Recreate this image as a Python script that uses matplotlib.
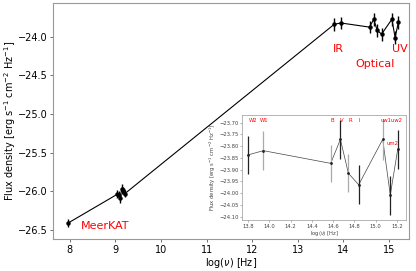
import numpy as np
import matplotlib.pyplot as plt

# radio (MeerKAT) points
radio_x = [7.97, 9.04, 9.07, 9.10, 9.14, 9.17, 9.21]
radio_y = [-26.41, -26.04, -26.05, -26.09, -25.97, -25.99, -26.03]
radio_err = [0.05, 0.05, 0.05, 0.06, 0.06, 0.05, 0.05]

# IR / optical / UV points (also shown in the inset)
band_names = ['W2', 'W1', 'B', 'V', 'R', 'I', 'uw1', 'um2', 'uw2']
band_x = [13.80, 13.944, 14.577, 14.668, 14.743, 14.840, 15.066, 15.137, 15.207]
band_y = [-23.837, -23.819, -23.873, -23.771, -23.915, -23.964, -23.771, -24.008, -23.813]
band_err = [0.080, 0.083, 0.080, 0.083, 0.080, 0.083, 0.087, 0.083, 0.083]
band_dark = [True, False, False, True, False, True, False, True, True]

all_x = radio_x + band_x
all_y = radio_y + band_y
all_err = radio_err + band_err

fig = plt.figure(figsize=(4.16, 2.71), dpi=100)
ax = fig.add_axes([0.1274, 0.118, 0.8556, 0.871])
ax.errorbar(all_x, all_y, yerr=all_err, fmt='o-', color='black', ms=2.2, lw=0.8, elinewidth=1.0)
ax.set_xlim(7.63, 15.44)
ax.set_ylim(-26.62, -23.56)
ax.set_xticks(range(8, 16))
ax.set_yticks([-26.5, -26.0, -25.5, -25.0, -24.5, -24.0])
ax.tick_params(labelsize=7, length=2.5, width=0.6, color='#555555', pad=1.5)
for s in ax.spines.values():
    s.set_color('#999999')
    s.set_linewidth(0.8)
ax.set_xlabel(r'log($\nu$) [Hz]', fontsize=7, labelpad=1)
ax.set_ylabel(r'Flux density [erg s$^{-1}$ cm$^{-2}$ Hz$^{-1}$]', fontsize=7, labelpad=0)

ax.text(8.24, -26.45, 'MeerKAT', color='red', fontsize=8, va='center')
ax.text(13.77, -24.155, 'IR', color='red', fontsize=8, va='center')
ax.text(14.27, -24.35, 'Optical', color='red', fontsize=8, va='center')
ax.text(15.06, -24.155, 'UV', color='red', fontsize=8, va='center')

# inset
ins = fig.add_axes([0.582, 0.188, 0.394, 0.388])
ins.plot(band_x, band_y, '-', color='#444444', lw=0.5)
for x, y, e, d in zip(band_x, band_y, band_err, band_dark):
    c = '#222222' if d else '#aaaaaa'
    ins.errorbar(x, y, yerr=e, fmt='o', color='#222222', ecolor=c, ms=1, elinewidth=0.9)
ins.set_xlim(13.744, 15.285)
ins.set_ylim(-24.114, -23.667)
ins.set_xticks([13.8, 14.0, 14.2, 14.4, 14.6, 14.8, 15.0, 15.2])
ins.set_yticks(np.arange(-24.10, -23.69, 0.05))
ins.tick_params(labelsize=3.8, length=1.5, width=0.4, color='#777777', labelcolor='#444444', pad=1)
for s in ins.spines.values():
    s.set_color('#aaaaaa')
    s.set_linewidth(0.6)
ins.set_xlabel(r'log($\nu$) [Hz]', fontsize=3.8, labelpad=0.5, color='#444444')
ins.set_ylabel(r'Flux density [erg s$^{-1}$ cm$^{-2}$ Hz$^{-1}$]', fontsize=3.8, labelpad=1, color='#444444')

lab_x = [13.81, 13.91, 14.575, 14.665, 14.745, 14.835, 15.045]
lab_t = ['W2', 'W1', 'B', 'V', 'R', 'I', 'uw1uw2']
for x, t in zip(lab_x, lab_t):
    ins.text(x, -23.69, t, color='red', fontsize=3.8, va='center')
ins.text(15.1, -23.79, 'um2', color='red', fontsize=3.8, va='center')

fig.savefig('out.png', dpi=100)
